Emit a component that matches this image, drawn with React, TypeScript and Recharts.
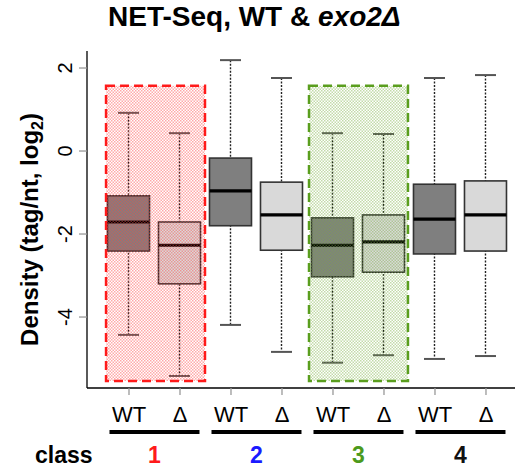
import React from "react";
import {
  ComposedChart,
  Bar,
  XAxis,
  YAxis,
  ReferenceArea,
  Label,
} from "recharts";

// box statistics, one entry per box (class 1..4, WT then exo2Δ)
const categories = ["WT", "Δ", "WT", "Δ", "WT", "Δ", "WT", "Δ"];
const whiskerHigh = [0.92, 0.43, 2.19, 1.76, 0.43, 0.41, 1.76, 1.83];
const upperQuartile = [-1.08, -1.71, -0.17, -0.75, -1.61, -1.54, -0.8, -0.72];
const medians = [-1.71, -2.27, -0.96, -1.54, -2.27, -2.19, -1.64, -1.54];
const lowerQuartile = [-2.41, -3.2, -1.8, -2.39, -3.03, -2.92, -2.48, -2.41];
const whiskerLow = [-4.43, -5.42, -4.19, -4.84, -5.1, -4.92, -5.01, -4.94];

const classCenters = [1.5, 3.5, 5.5, 7.5];
const classLabels = ["1", "2", "3", "4"];
const classColors = ["#ff1a1a", "#1a1aff", "#4c9a1c", "#111111"];

const yTicks = [2, 0, -2, -4];

// dashed highlight boxes around class 1 and class 3
const highlightX1 = [0.55, 4.53];
const highlightX2 = [2.49, 6.47];
const highlightLow = [-5.54, -5.54];
const highlightHigh = [1.57, 1.57];

const font = "'Liberation Sans', Arial, sans-serif";

const data = categories.map((c, i) => ({
  pos: i + 1,
  label: c,
  range: [whiskerLow[i], whiskerHigh[i]],
  q1: lowerQuartile[i],
  med: medians[i],
  q3: upperQuartile[i],
}));

const BoxShape = (props: any) => {
  const { x, y, width, height, payload } = props;
  const [lo, hi] = payload.range;
  const k = height / (hi - lo);
  const yOf = (v: number) => y + (hi - v) * k;
  const cx = x + width / 2;
  const fill = payload.label === "WT" ? "#7f7f7f" : "#d9d9d9";
  const cap = 10.5;
  return (
    <g>
      <line x1={cx} x2={cx} y1={yOf(hi)} y2={yOf(lo)} stroke="#222" strokeWidth={1.4} strokeDasharray="2 1.5" />
      <line x1={cx - cap} x2={cx + cap} y1={yOf(hi)} y2={yOf(hi)} stroke="#555" strokeWidth={2} />
      <line x1={cx - cap} x2={cx + cap} y1={yOf(lo)} y2={yOf(lo)} stroke="#555" strokeWidth={2} />
      <rect x={x} y={yOf(payload.q3)} width={width} height={yOf(payload.q1) - yOf(payload.q3)} fill={fill} stroke="#333" strokeWidth={1.6} />
      <line x1={x} x2={x + width} y1={yOf(payload.med)} y2={yOf(payload.med)} stroke="#000" strokeWidth={3.2} />
    </g>
  );
};

const YTick = (props: any) => {
  const { x, y, payload } = props;
  const tx = x - 5;
  return (
    <text x={tx} y={y} transform={`rotate(-90, ${tx}, ${y})`} textAnchor="middle" fontSize={20} fontFamily={font} fill="#000">
      {payload.value}
    </text>
  );
};

const XTick = (props: any) => {
  const { x, y, index } = props;
  return (
    <text x={x} y={y + 27} textAnchor="middle" fontSize={22} fontFamily={font} fill="#000">
      {categories[index]}
    </text>
  );
};

const ClassTick = (props: any) => {
  const { x, y, index } = props;
  return (
    <g>
      <line x1={x - 45} x2={x + 45} y1={y + 6} y2={y + 6} stroke="#000" strokeWidth={4} />
      <text x={x} y={y + 37} textAnchor="middle" fontSize={23} fontWeight="bold" fontFamily={font} fill={classColors[index]}>
        {classLabels[index]}
      </text>
    </g>
  );
};

const YLabel = (props: any) => {
  const { viewBox } = props;
  const cx = 38;
  const cy = viewBox.y + viewBox.height / 2 + 10;
  return (
    <text x={cx} y={cy} transform={`rotate(-90, ${cx}, ${cy})`} textAnchor="middle" fontSize={24} fontWeight="bold" fontFamily={font} fill="#000">
      Density (tag/nt, log
      <tspan fontSize={16} dy={5}>2</tspan>
      <tspan dy={-5}>)</tspan>
    </text>
  );
};

const ClassLabel = (props: any) => {
  const { viewBox } = props;
  return (
    <text x={viewBox.x - 52} y={viewBox.y + 37} fontSize={23} fontWeight="bold" fontFamily={font} fill="#000">
      class
    </text>
  );
};

const highlightFills = ["url(#redDots)", "url(#greenDots)"];
const highlightStrokes = ["#ff1a1a", "#5a9e1e"];

export default function App() {
  return (
    <div style={{ position: "absolute", left: 0, top: 0, width: 515, height: 470, background: "#fff" }}>
      <div
        style={{
          position: "absolute",
          left: 108,
          top: 1,
          fontFamily: font,
          fontWeight: "bold",
          fontSize: 28,
          whiteSpace: "nowrap",
        }}
      >
        NET-Seq, WT &amp; <i>exo2Δ</i>
      </div>
      <ComposedChart width={515} height={470} data={data} margin={{ top: 51, right: 0, bottom: 0, left: 0 }}>
        <defs>
          <pattern id="redDots" width={3} height={3} patternUnits="userSpaceOnUse">
            <rect x={0} y={0} width={1.5} height={1.5} fill="#ff4040" fillOpacity={0.45} />
            <rect x={1.5} y={1.5} width={1.5} height={1.5} fill="#ff4040" fillOpacity={0.45} />
          </pattern>
          <pattern id="greenDots" width={3} height={3} patternUnits="userSpaceOnUse">
            <rect x={0} y={0} width={1.5} height={1.5} fill="#7ab040" fillOpacity={0.45} />
            <rect x={1.5} y={1.5} width={1.5} height={1.5} fill="#7ab040" fillOpacity={0.45} />
          </pattern>
        </defs>
        <XAxis
          xAxisId={0}
          type="number"
          dataKey="pos"
          domain={[0.1765, 8.569]}
          ticks={[1, 2, 3, 4, 5, 6, 7, 8]}
          allowDataOverflow
          height={38}
          axisLine={{ stroke: "#000", strokeWidth: 1.3 }}
          tickLine={{ stroke: "#999", strokeWidth: 1.3 }}
          tickSize={7}
          tickMargin={0}
          tick={<XTick />}
          interval={0}
        />
        <XAxis
          xAxisId={1}
          type="number"
          dataKey="pos"
          domain={[0.1765, 8.569]}
          ticks={classCenters}
          allowDataOverflow
          height={44}
          axisLine={false}
          tickLine={false}
          tickSize={0}
          tickMargin={0}
          tick={<ClassTick />}
          interval={0}
        >
          <Label content={<ClassLabel />} />
        </XAxis>
        <YAxis
          type="number"
          domain={[-5.71, 2.41]}
          ticks={yTicks}
          allowDataOverflow
          width={87}
          axisLine={{ stroke: "#000", strokeWidth: 1.3 }}
          tickLine={{ stroke: "#999", strokeWidth: 1.3 }}
          tickSize={8}
          tickMargin={2}
          tick={<YTick />}
          interval={0}
        >
          <Label content={<YLabel />} />
        </YAxis>
        <Bar xAxisId={0} dataKey="range" barSize={42} shape={<BoxShape />} isAnimationActive={false} />
        {highlightX1.map((x1, i) => (
          <ReferenceArea
            key={i}
            xAxisId={0}
            x1={x1}
            x2={highlightX2[i]}
            y1={highlightLow[i]}
            y2={highlightHigh[i]}
            fill={highlightFills[i]}
            fillOpacity={1}
            stroke={highlightStrokes[i]}
            strokeWidth={2.5}
            strokeDasharray="9 5"
            ifOverflow="visible"
            {...({ zIndex: 1000 } as any)}
          />
        ))}
      </ComposedChart>
    </div>
  );
}
